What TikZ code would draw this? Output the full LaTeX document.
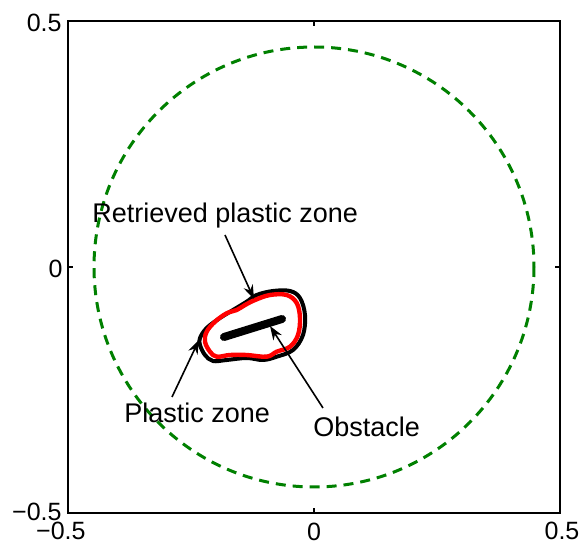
\documentclass[tikz,border=0pt]{standalone}
\usepackage{fontspec}
\setmainfont{Liberation Sans}
\usetikzlibrary{arrows.meta}
\definecolor{mgreen}{rgb}{0,0.5,0}
\tikzset{
  ticklab/.style={inner sep=0pt, font=\fontsize{12.5}{14}\selectfont},
  annot/.style={inner sep=0pt, font=\fontsize{13.5}{16}\selectfont},
  pointer/.style={line width=0.8pt, -{Stealth[length=7pt,width=5pt]}},
  axisbox/.style={line width=0.6pt},
  tickmark/.style={line width=0.6pt},
  outerring/.style={mgreen, line width=1.5pt, dash pattern=on 5pt off 3.5pt},
  plastic/.style={black, line width=2pt, line join=round},
  retrieved/.style={red, line width=2.2pt, line join=round},
  obstacle/.style={black, line width=4pt, line cap=round}
}
\begin{document}
\begin{tikzpicture}[x=0.5pt,y=-0.5pt]
\useasboundingbox (0,0) rectangle (580,545);
% axes box
\draw[axisbox] (68,21) rectangle (560,513);
\draw[tickmark] (314,513) -- (314,508);
\draw[tickmark] (314,21) -- (314,26);
\draw[tickmark] (68,267) -- (73,267);
\draw[tickmark] (560,267) -- (555,267);
% tick labels
\node[ticklab, anchor=base east] (yl1) at (62,32) {0.5};
\node[ticklab, anchor=base east] (yl2) at (63,278) {0};
\node[ticklab, anchor=base east] (yl3) at (62,521) {−0.5};
\node[ticklab, anchor=base east] (xl1) at (86,540) {−0.5};
\node[ticklab, anchor=base] (xl2) at (314,541) {0};
\node[ticklab, anchor=base] (xl3) at (562,540) {0.5};
% domain circle
\draw[outerring] (314,267) circle (220);
% plastic zone (black)
\draw[plastic] plot[smooth cycle, tension=0.6] coordinates {
 (256.7,295) (273,291) (290,291) (300,298) (305,315) (303,335) (293,350)
 (276.7,356.7) (263,360) (246.7,358) (226.7,360) (213,361) (205,355)
 (200,345) (200,338) (206.7,328) (220,318) (233,310) (246.7,301.7)};
% retrieved plastic zone (red)
\draw[retrieved] plot[smooth cycle, tension=0.6] coordinates {
 (255,300) (270,295) (286.7,295) (296.7,303) (300,318) (298,335) (290,346.7)
 (276.7,351.7) (266.7,356.7) (246.7,355) (230,355) (216.7,356.7) (210,351.7)
 (205,341.7) (206.7,331.7) (215,321.7) (226.7,313.3) (236.7,310) (245,305)};
% obstacle
\coordinate (obsA) at (224,337);
\coordinate (obsB) at (282,319);
\draw[obstacle] (obsA) -- (obsB);
% labels
\node[annot, anchor=base west] (lret) at (92,223) {Retrieved plastic zone};
\node[annot, anchor=base west] (lpz) at (124,423) {Plastic zone};
\node[annot, anchor=base west] (lobs) at (313,437) {Obstacle};
% arrow ends
\coordinate (tRet) at (225,235);
\coordinate (hRet) at (254,299);
\coordinate (tPz) at (172,397);
\coordinate (hPz) at (199,340);
\coordinate (tObs) at (323,408);
\coordinate (hObs) at (270,326);
\draw[pointer] (tRet) -- (hRet);
\draw[pointer] (tPz) -- (hPz);
\draw[pointer] (tObs) -- (hObs);
\end{tikzpicture}
\end{document}
